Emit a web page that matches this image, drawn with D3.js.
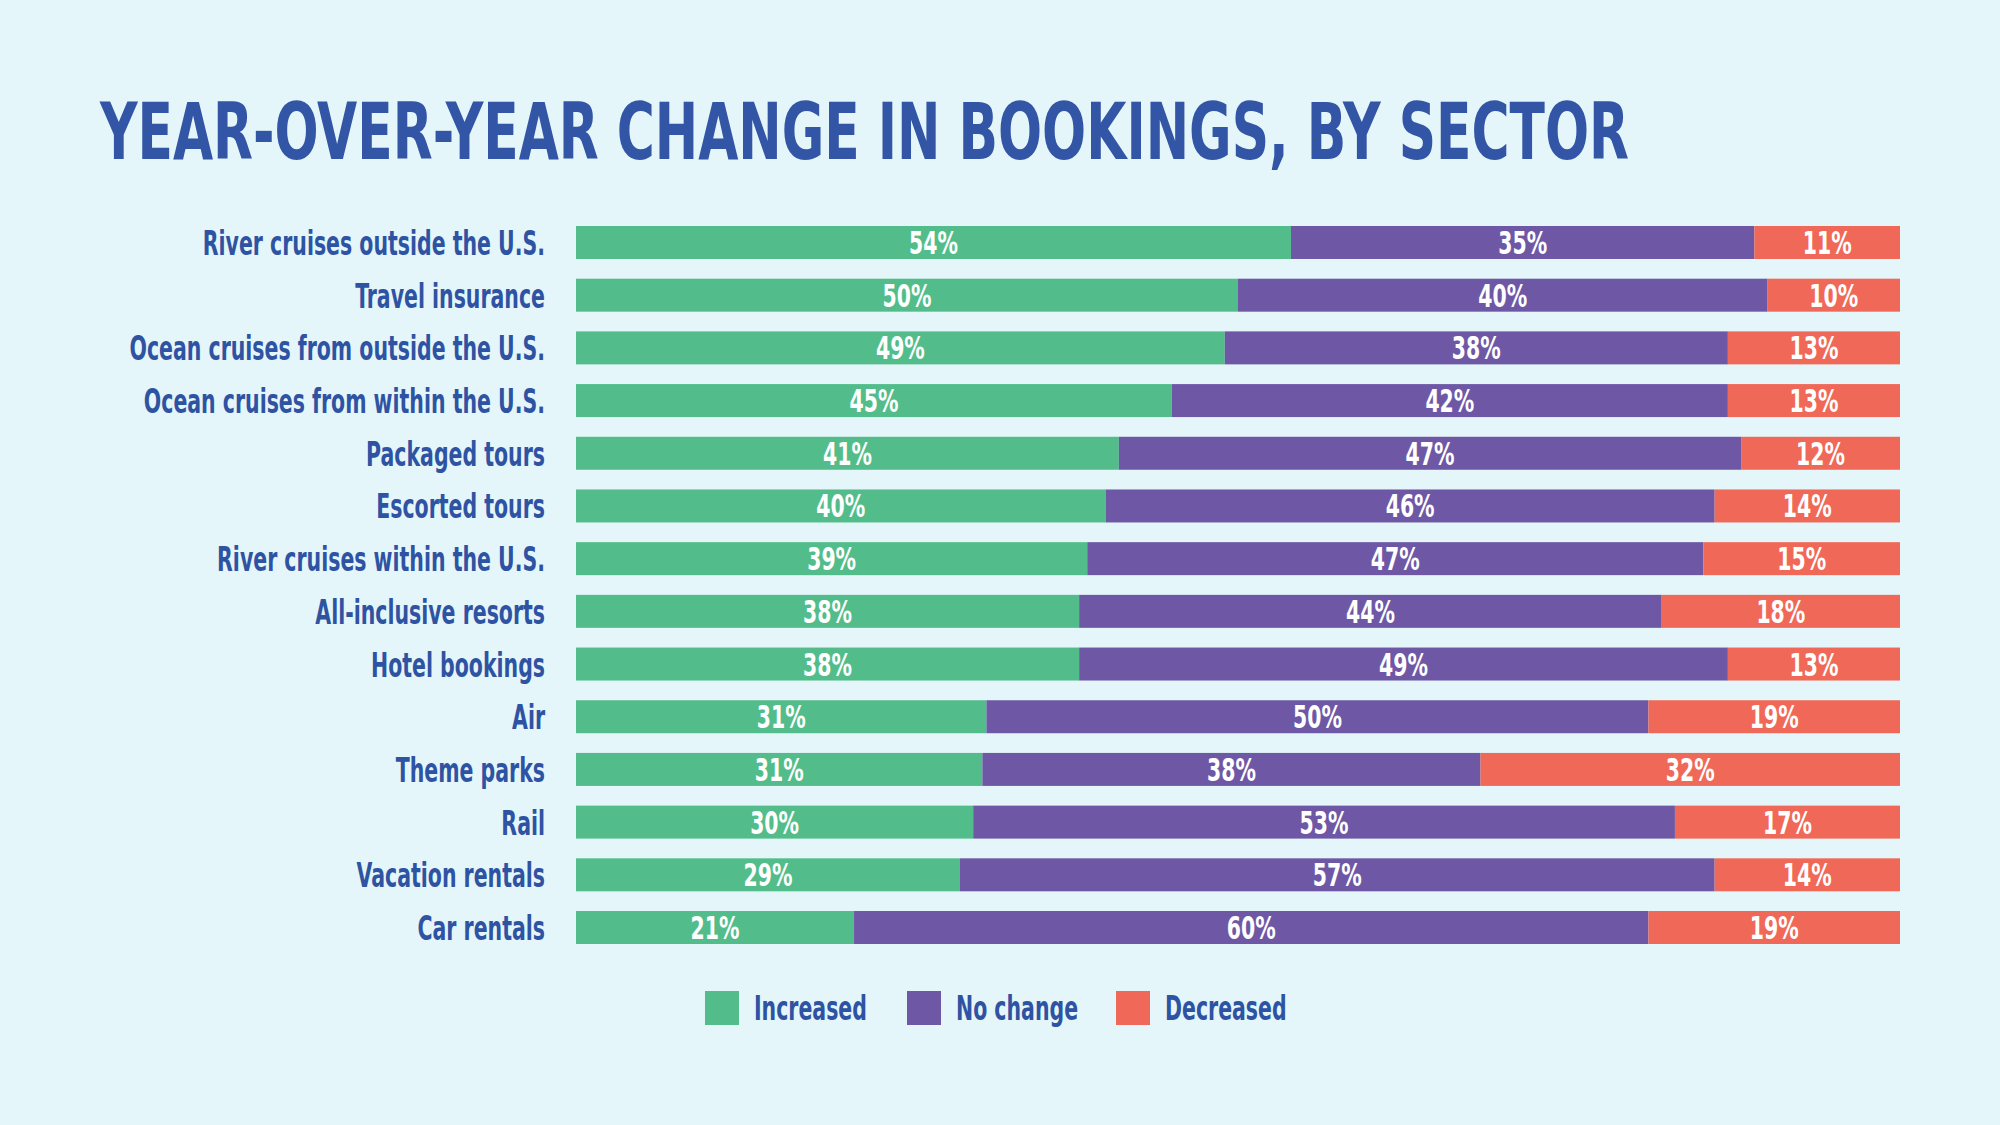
<!DOCTYPE html>
<html>
<head>
<meta charset="utf-8">
<script src="https://cdn.jsdelivr.net/npm/d3@7"></script>
<style>
  html, body { margin: 0; padding: 0; background: #e4f6f9; }
  svg { display: block; }
  text { font-family: "Liberation Sans Narrow", "DejaVu Sans Condensed", sans-serif; font-weight: bold; }
</style>
</head>
<body>
<div id="chart"></div>
<script>
const sectors = ['River cruises outside the U.S.', 'Travel insurance', 'Ocean cruises from outside the U.S.',
    'Ocean cruises from within the U.S.', 'Packaged tours', 'Escorted tours', 'River cruises within the U.S.',
    'All-inclusive resorts', 'Hotel bookings', 'Air', 'Theme parks', 'Rail', 'Vacation rentals', 'Car rentals'];
const increased = [54, 50, 49, 45, 41, 40, 39, 38, 38, 31, 31, 30, 29, 21];
const noChange  = [35, 40, 38, 42, 47, 46, 47, 44, 49, 50, 38, 53, 57, 60];
const decreased = [11, 10, 13, 13, 12, 14, 15, 18, 13, 19, 32, 17, 14, 19];
const seriesNames = ['Increased', 'No change', 'Decreased'];
const colors = ['#52bd8a', '#6e58a6', '#f06857'];

const width = 2000, height = 1125;
const textBlue = '#2f53a3';
const squeeze = 0.67; // the original uses a very condensed face

const rows = sectors.map((s, i) => ({ sector: s, Increased: increased[i], 'No change': noChange[i], Decreased: decreased[i] }));

const svg = d3.select('#chart')
    .append('svg')
    .attr('width', width)
    .attr('height', height);

svg.append('rect')
    .attr('width', width)
    .attr('height', height)
    .attr('fill', '#e4f6f9');

// title, squeezed to the width of the original
const title = svg.append('text')
    .attr('font-size', 78)
    .attr('fill', '#3355a6')
    .text('YEAR-OVER-YEAR CHANGE IN BOOKINGS, BY SECTOR');
const titleLen = title.node().getComputedTextLength();
title.attr('transform', `translate(100, 159) scale(${1529 / titleLen}, 1)`);

const xScale = d3.scaleLinear()
    .domain([0, 1])
    .range([576, 1900]);

const yScale = d3.scaleBand()
    .domain(sectors)
    .range([226, 944])
    .paddingInner(0.374)
    .paddingOuter(0);

const stack = d3.stack()
    .keys(seriesNames)
    .offset(d3.stackOffsetExpand);
const stacked = stack(rows);

const layers = svg.selectAll('g.layer')
    .data(stacked)
    .enter()
    .append('g')
    .attr('class', 'layer')
    .attr('fill', (d, i) => colors[i]);

layers.selectAll('rect')
    .data(d => d)
    .enter()
    .append('rect')
    .attr('x', d => xScale(d[0]))
    .attr('y', d => yScale(d.data.sector))
    .attr('width', d => xScale(d[1]) - xScale(d[0]))
    .attr('height', yScale.bandwidth());

layers.selectAll('text')
    .data((d, i) => d.map(p => ({ p, key: seriesNames[i] })))
    .enter()
    .append('text')
    .attr('transform', d => `translate(${(xScale(d.p[0]) + xScale(d.p[1])) / 2}, ${yScale(d.p.data.sector) + yScale.bandwidth() / 2 + 11.5}) scale(0.71, 1)`)
    .attr('text-anchor', 'middle')
    .attr('font-size', 32)
    .attr('fill', '#fff')
    .text(d => `${d.p.data[d.key]}%`);

// category labels
const yAxis = d3.axisLeft(yScale).tickSize(0).tickPadding(0);
const axisG = svg.append('g')
    .attr('transform', 'translate(545, 0)')
    .call(yAxis);
axisG.select('.domain').remove();
axisG.selectAll('.tick text')
    .attr('font-family', null)
    .attr('font-size', 34)
    .attr('fill', textBlue)
    .attr('dy', null)
    .attr('x', 0)
    .attr('y', 12.5)
    .attr('transform', `scale(${squeeze}, 1)`);

// legend
const legendX = [705, 907, 1116];
const legend = svg.append('g')
    .attr('id', 'legend')
    .selectAll('g')
    .data(seriesNames)
    .enter()
    .append('g')
    .attr('transform', (d, i) => `translate(${legendX[i]}, 991)`);

legend.append('rect')
    .attr('width', 34)
    .attr('height', 34)
    .attr('fill', (d, i) => colors[i]);

legend.append('text')
    .attr('transform', `translate(49, 29) scale(${squeeze}, 1)`)
    .attr('font-size', 34)
    .attr('fill', textBlue)
    .text(d => d);
</script>
</body>
</html>
